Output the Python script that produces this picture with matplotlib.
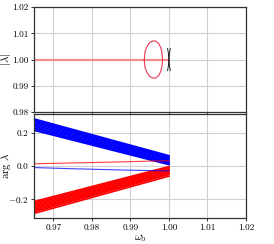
import matplotlib
matplotlib.use("Agg")
import matplotlib.pyplot as plt

plt.rcParams['font.family'] = 'serif'
plt.rcParams['font.serif'] = ['cmr10', 'DejaVu Serif']
plt.rcParams['mathtext.fontset'] = 'cm'
plt.rcParams['axes.formatter.use_mathtext'] = True
plt.rcParams['font.size'] = 6.6

# frequency range of the bands
omega_band = [0.965, 1.0]

# arg(lambda) of the blue band lines at omega = 0.965 and omega = 1.0
blue_start = [0.216, 0.224, 0.232, 0.240, 0.248, 0.256, 0.264, 0.271, 0.278, 0.285]
blue_end = [0.008, 0.014, 0.020, 0.026, 0.032, 0.038, 0.044, 0.050, 0.056, 0.062]

# arg(lambda) of the red band lines
red_start = [-0.216, -0.224, -0.232, -0.240, -0.248, -0.256, -0.264, -0.271, -0.278, -0.288]
red_end = [-0.004, -0.010, -0.016, -0.022, -0.028, -0.034, -0.040, -0.046, -0.052, -0.062]

# single modes near zero
omega_single = [0.965, 0.975, 0.985, 0.99, 0.995, 1.0]
red_single = [0.013, 0.018, 0.023, 0.026, 0.029, 0.032]
blue_single = [-0.010, -0.017, -0.023, -0.026, -0.028, -0.030]

# |lambda| loop in the instability window
loop_omega = [0.9936, 0.9938, 0.9943, 0.9950, 0.9958, 0.9966, 0.9974, 0.9979, 0.9982, 0.99835]
loop_upper = [1.0000, 1.0030, 1.0050, 1.0064, 1.0071, 1.0070, 1.0060, 1.0044, 1.0025, 1.0000]
loop_lower = [1.0000, 0.9970, 0.9950, 0.9936, 0.9929, 0.9930, 0.9940, 0.9956, 0.9975, 1.0000]

# small black bow-tie at omega = 1
bow_left_x = [0.99965, 0.9999, 1.0000, 0.9999, 0.99965]
bow_right_x = [1.00035, 1.0001, 1.0000, 1.0001, 1.00035]
bow_y = [1.0042, 1.0020, 1.0000, 0.9980, 0.9958]

fig = plt.figure(figsize=(2.74, 2.44), dpi=100)
ax1 = fig.add_axes([0.124, 0.541, 0.774, 0.430])
ax2 = fig.add_axes([0.124, 0.107, 0.774, 0.426])

for ax in (ax1, ax2):
    ax.grid(True, color='#d0d0d0', lw=0.8)
    ax.set_axisbelow(True)
    for s in ax.spines.values():
        s.set_color('#333333')
        s.set_linewidth(0.9)
    ax.tick_params(length=2.5, width=0.7, color='#333333', pad=1.5)
    ax.set_xlim(0.965, 1.02)
    ax.set_xticks([0.97, 0.98, 0.99, 1.00, 1.01, 1.02])

# top panel
ax1.plot(omega_band, [1.0, 1.0], color='#f28b8b', lw=1.5)
ax1.plot(loop_omega, loop_upper, color='#e8384f', lw=0.8)
ax1.plot(loop_omega, loop_lower, color='#e8384f', lw=0.8)
ax1.plot(bow_left_x, bow_y, color='black', lw=0.6)
ax1.plot(bow_right_x, bow_y, color='black', lw=0.6)
ax1.set_ylim(0.98, 1.02)
ax1.set_yticks([0.98, 0.99, 1.00, 1.01, 1.02])
ax1.set_yticklabels(['0.98', '0.99', '1.00', '1.01', '1.02'])
ax1.set_xticklabels([])
ax1.set_ylabel(r'$|\lambda|$', fontsize=8)
ax1.yaxis.set_label_coords(-0.098, 0.5)

# bottom panel
for a, b in zip(blue_start, blue_end):
    ax2.plot(omega_band, [a, b], color='blue', lw=1.2)
for a, b in zip(red_start, red_end):
    ax2.plot(omega_band, [a, b], color='red', lw=1.2)
ax2.plot(omega_single, red_single, color='red', lw=0.8, alpha=0.75)
ax2.plot(omega_single, blue_single, color='blue', lw=0.8, alpha=0.75)
ax2.set_ylim(-0.315, 0.315)
ax2.set_yticks([-0.2, 0.0, 0.2])
ax2.set_yticklabels([r'$-0.2$', '0.0', '0.2'])
ax2.set_xticklabels(['0.97', '0.98', '0.99', '1.00', '1.01', '1.02'])
ax2.set_ylabel(r'$\arg\,\lambda$', fontsize=8)
ax2.yaxis.set_label_coords(-0.098, 0.5)
ax2.set_xlabel(r'$\omega_\mathrm{b}$', fontsize=8, labelpad=1)

fig.savefig('out.png', dpi=100)
